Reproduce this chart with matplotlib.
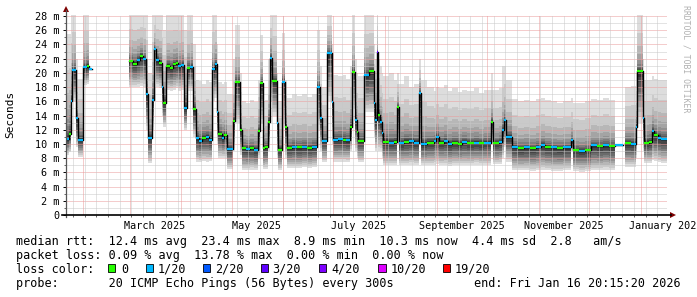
import numpy as np
import matplotlib
matplotlib.use('Agg')
import matplotlib.pyplot as plt
from matplotlib.patches import Polygon, Rectangle
from matplotlib.lines import Line2D

# smokeping year view, 360 days ending 2026-01-16 20:15
start = np.datetime64('2025-01-21T20:15')
span_days = 360.0

# segments: start day, median (ms), min, max, lost pings (of 20)
seg_day = [0.0, 1.8, 2.7, 3.6, 6.0, 7.2, 9.9, 12.6, 13.8, 15.6,
           37.8, 40.2, 42.6, 44.4, 46.2, 48.0, 48.9, 51.6, 52.8, 54.0,
           55.8, 57.3, 58.2, 60.0, 62.4, 64.2, 66.0, 67.2, 69.0, 70.8,
           72.6, 74.4, 76.2, 77.7, 79.8, 81.6, 84.0, 85.8, 87.6, 89.1,
           90.3, 91.2, 93.6, 94.8, 96.6, 100.2, 101.1, 104.4, 105.6, 108.0,
           110.4, 112.8, 115.2, 116.1, 118.2, 119.4, 121.2, 122.4, 123.3, 126.6,
           127.2, 129.6, 131.4, 132.3, 135.6, 138.6, 141.6, 144.6, 147.6, 150.6,
           152.4, 153.3, 156.6, 159.6, 160.2, 163.2, 166.2, 168.0, 170.4, 171.3,
           173.4, 174.3, 175.2, 178.8, 181.2, 184.2, 185.1, 186.0, 186.9, 188.1,
           189.0, 189.9, 193.2, 196.2, 198.3, 199.2, 202.2, 205.2, 208.2, 211.5,
           212.7, 216.0, 220.2, 221.7, 223.2, 226.2, 228.6, 231.0, 234.6, 237.0,
           240.0, 244.2, 247.2, 250.2, 254.4, 255.6, 259.2, 261.3, 262.2, 263.4,
           267.0, 270.6, 274.2, 277.8, 281.4, 284.4, 286.8, 290.4, 294.0, 297.6,
           302.4, 303.6, 307.2, 310.8, 314.4, 318.0, 321.6, 325.2, 328.8, 333.9,
           335.1, 338.4, 341.4, 342.3, 345.6, 346.2, 349.2, 351.3, 352.2, 354.6,
           356.4]
median = [10.7, 11.4, 16.0, 20.4, 13.6, 10.6, 20.8, 21.0, 20.6, np.nan,
          21.6, 21.3, 21.8, 22.4, 22.0, 17.0, 10.9, 16.2, 23.4, 21.8,
          21.4, 18.0, 15.8, 21.0, 20.7, 21.2, 21.4, 20.9, 21.1, 15.1,
          20.7, 20.8, 14.9, 10.8, 10.4, 10.9, 11.0, 10.6, 20.6, 21.2,
          14.5, 11.4, 10.9, 11.2, 9.3, 13.2, 18.7, 12.0, 9.4, 9.3,
          9.4, 9.2, 11.8, 18.6, 9.4, 9.6, 13.1, 22.1, 18.8, 12.9,
          9.2, 18.7, 12.4, 9.4, 9.6, 9.5, 9.6, 9.4, 9.6, 18.0,
          13.6, 10.4, 22.8, 15.9, 10.6, 10.7, 10.6, 10.5, 12.4, 20.1,
          13.4, 11.7, 10.4, 19.7, 20.2, 15.8, 13.4, 22.9, 14.1, 13.1,
          11.5, 10.3, 10.2, 10.3, 15.2, 10.1, 10.3, 10.4, 10.2, 17.2,
          10.0, 10.2, 10.4, 11.0, 10.2, 10.4, 10.0, 10.2, 10.0, 10.3,
          10.1, 10.2, 10.1, 10.2, 13.1, 10.1, 10.3, 11.9, 13.3, 11.0,
          9.6, 9.4, 9.5, 9.4, 9.6, 9.9, 9.6, 9.5, 9.4, 9.5,
          10.5, 9.1, 9.0, 9.1, 9.8, 9.7, 9.8, 9.7, 9.9, np.nan,
          10.1, 10.0, 12.4, 20.2, 13.6, 10.2, 10.3, 11.8, 11.2, 10.9,
          10.7]
ping_min = [8.5, 8.8, 12.0, 16.0, 9.5, 8.2, 18.3, 18.5, 18.5, np.nan,
            18.0, 18.0, 18.0, 18.2, 18.0, 12.0, 7.3, 12.0, 19.0, 18.0,
            17.8, 14.0, 12.4, 17.6, 17.5, 17.6, 17.8, 17.5, 17.6, 12.0,
            17.5, 17.5, 11.0, 7.5, 7.5, 7.6, 7.5, 7.6, 16.0, 16.5,
            10.0, 8.0, 8.0, 8.0, 6.5, 9.0, 13.0, 8.5, 6.3, 6.3,
            6.4, 6.3, 8.0, 13.0, 6.5, 6.5, 9.0, 16.0, 14.0, 8.0,
            6.3, 13.0, 8.0, 6.6, 6.6, 6.6, 6.7, 6.6, 6.7, 12.0,
            9.0, 7.5, 16.0, 10.0, 7.5, 7.5, 7.5, 7.5, 9.0, 15.0,
            9.0, 8.0, 7.5, 14.5, 14.5, 11.0, 9.0, 16.0, 9.0, 9.0,
            8.0, 7.0, 7.0, 7.0, 10.0, 7.0, 7.0, 7.1, 7.0, 10.0,
            7.0, 7.0, 7.1, 7.2, 7.0, 7.0, 6.9, 7.0, 7.0, 7.0,
            7.0, 7.1, 7.0, 7.0, 10.3, 7.2, 7.2, 8.0, 9.5, 7.5,
            6.3, 6.3, 6.3, 6.2, 6.3, 6.4, 6.3, 6.2, 6.2, 6.3,
            9.0, 6.2, 6.1, 6.2, 6.3, 6.3, 6.4, 6.3, 6.4, np.nan,
            6.8, 6.8, 8.0, 13.0, 9.0, 7.3, 7.3, 7.8, 7.6, 7.4,
            7.3]
ping_max = [25.5, 25.5, 28.5, 28.5, 22.0, 19.2, 28.5, 28.5, 28.5, np.nan,
            28.5, 28.5, 28.5, 28.5, 28.5, 28.5, 20.0, 28.5, 28.5, 28.5,
            28.5, 28.5, 26.0, 28.5, 28.5, 28.5, 28.5, 28.5, 28.5, 26.0,
            28.5, 28.5, 24.0, 19.0, 18.8, 18.5, 19.0, 18.7, 28.5, 28.5,
            24.0, 18.7, 18.5, 18.7, 17.0, 22.0, 26.7, 20.0, 16.0, 15.8,
            16.2, 15.9, 19.0, 25.3, 16.0, 16.2, 22.0, 28.5, 28.5, 20.0,
            16.0, 25.6, 19.0, 16.5, 17.0, 16.8, 17.0, 16.6, 17.0, 26.0,
            21.0, 18.0, 28.5, 24.0, 19.7, 19.5, 19.7, 19.2, 21.0, 28.5,
            22.0, 20.0, 19.5, 28.5, 28.5, 24.0, 22.0, 28.5, 22.0, 21.0,
            20.0, 19.5, 20.0, 19.0, 20.0, 18.5, 19.5, 18.0, 18.5, 22.0,
            19.0, 18.0, 17.5, 18.0, 17.8, 18.3, 17.5, 17.8, 17.3, 17.6,
            17.4, 17.8, 17.2, 17.6, 20.0, 17.6, 17.8, 21.0, 21.0, 19.0,
            16.3, 16.0, 16.2, 16.0, 16.3, 16.5, 16.2, 16.0, 15.8, 16.0,
            16.5, 15.8, 15.7, 16.0, 16.3, 16.2, 16.5, 16.2, 16.4, np.nan,
            18.0, 18.2, 20.0, 28.5, 22.0, 19.0, 19.0, 19.5, 19.2, 19.0,
            19.0]
lost = [1, 0, 1, 1, 1, 1, 1, 0, 1, 0,
        0, 0, 1, 0, 1, 1, 1, 1, 1, 1,
        0, 1, 0, 0, 0, 0, 0, 1, 1, 1,
        0, 1, 0, 1, 1, 0, 1, 1, 1, 1,
        1, 0, 1, 0, 1, 0, 0, 0, 0, 1,
        0, 1, 0, 0, 0, 0, 0, 1, 0, 1,
        0, 1, 0, 0, 1, 0, 1, 0, 1, 1,
        1, 1, 1, 1, 1, 1, 0, 1, 0, 0,
        1, 0, 0, 1, 0, 1, 1, 3, 0, 1,
        1, 0, 1, 0, 0, 1, 0, 1, 1, 1,
        1, 0, 1, 1, 0, 1, 1, 0, 0, 1,
        0, 1, 0, 1, 0, 0, 1, 1, 1, 1,
        1, 0, 1, 0, 1, 1, 0, 1, 0, 1,
        1, 0, 1, 0, 1, 0, 1, 0, 1, 0,
        0, 1, 1, 0, 1, 0, 0, 1, 0, 1,
        1]

loss_levels = [0, 1, 2, 3, 4, 10, 19]
loss_colors = ['#26ff00', '#00b8ff', '#0059ff', '#5e00ff', '#7e00ff', '#dd00ff', '#ff0000']
loss_names = ['0', '1/20', '2/20', '3/20', '4/20', '10/20', '19/20']

W, H = 697, 297
def fx(x):
    return x / W
def fy(y):
    return 1 - y / H

mono = 'DejaVu Sans Mono'
fig = plt.figure(figsize=(W / 100, H / 100), dpi=100)
fig.patch.set_facecolor('white')
ax = fig.add_axes([fx(66), fy(215), (667 - 66) / W, 200 / H])
ax.set_xlim(0, span_days)
ax.set_ylim(0, 200 / 7.107)
for s in ax.spines.values():
    s.set_visible(False)

def day(d):
    return (np.datetime64(d) - start) / np.timedelta64(1, 'D')

x = np.append(np.array(seg_day), span_days)
med = np.array(median)
lo = np.array(ping_min)
hi = np.array(ping_max)

# smoke: 10 nested bands, light outside, dark near the median
for k in range(10):
    shade = int(190 / 10 * (9 - k)) + 50
    g_lo = (10 - k) / 10
    g_hi = 0.66 ** k
    y1 = med - (med - lo) * g_lo
    y2 = med + (hi - med) * g_hi
    ax.fill_between(x, np.append(y1, y1[-1]), np.append(y2, y2[-1]), step='post',
                    color='#%02x%02x%02x' % (shade, shade, shade), lw=0,
                    antialiased=False, zorder=1)

# grid (dotted, drawn over the smoke)
minor_c, major_c = '#c8c8c8', '#eb9a9a'
for v in range(1, 29):
    ax.axhline(v, color=minor_c if v % 2 else major_c, lw=0.72, dashes=(1, 1), zorder=2)
for d in np.arange(day('2025-01-26'), span_days, 7):
    ax.axvline(d, color=minor_c, lw=0.72, dashes=(1, 1), zorder=2)
months = np.arange(np.datetime64('2025-02'), np.datetime64('2026-02'), dtype='datetime64[M]')
for m in months:
    ax.axvline(day(m), color=major_c, lw=0.72, dashes=(1, 1), zorder=2.1)

# median line, coloured by loss
ax.step(x, np.append(med, med[-1]), where='post', color='black', lw=1.0, zorder=3)
ok = ~np.isnan(med)
cols = [loss_colors[loss_levels.index(l)] for l in lost]
ax.hlines(med[ok], x[:-1][ok], x[1:][ok], colors=np.array(cols)[ok], lw=1.6, zorder=4)

# ticks
ax.set_yticks(range(0, 29, 2), ['0'] + ['%d m' % v for v in range(2, 29, 2)])
ax.set_yticks(range(0, 29), minor=True)
lab_months = ['2025-03', '2025-05', '2025-07', '2025-09', '2025-11', '2026-01']
ax.set_xticks([day(m + '-01') + 15 for m in lab_months],
              [np.datetime64(m, 'M').item().strftime('%B %Y') for m in lab_months])
ax.set_xticks(np.arange(day('2025-01-26'), span_days, 7), minor=True)
ax.tick_params(axis='x', which='major', length=0, pad=4.5)
ax.tick_params(axis='y', which='major', length=2, width=0.7, pad=2.5)
ax.tick_params(which='minor', length=1.5, width=0.7, color='#666666')
for t in ax.get_xticklabels() + ax.get_yticklabels():
    t.set_fontfamily(mono)
    t.set_fontsize(7.3)

# axes with arrows
fig.add_artist(Line2D([fx(66), fx(66)], [fy(217), fy(10)], color='#555555', lw=0.9))
fig.add_artist(Line2D([fx(62), fx(671)], [fy(215), fy(215)], color='black', lw=1.2))
fig.add_artist(Polygon([(fx(63), fy(12)), (fx(69), fy(12)), (fx(66), fy(6))],
                       closed=True, color='#7f0000', lw=0))
fig.add_artist(Polygon([(fx(670), fy(212)), (fx(670), fy(218)), (fx(676), fy(215))],
                       closed=True, color='#7f0000', lw=0))

fig.text(fx(10), fy(114), 'Seconds', rotation=90, ha='center', va='center',
         family=mono, fontsize=8)
fig.text(fx(686), fy(5), 'RRDTOOL / TOBI OETIKER', rotation=-90, ha='center', va='top',
         family=mono, fontsize=5.9, color='#b0b0b0')

# legend block
fs = 8.5
fig.text(fx(16), fy(241), 'median rtt:  12.4 ms avg  23.4 ms max  8.9 ms min  10.3 ms now  4.4 ms sd  2.8   am/s',
         family=mono, fontsize=fs, va='center')
fig.text(fx(16), fy(255.5), 'packet loss: 0.09 % avg  13.78 % max  0.00 % min  0.00 % now',
         family=mono, fontsize=fs, va='center')
fig.text(fx(16), fy(269.5), 'loss color:', family=mono, fontsize=fs, va='center')
box_x = [108, 146, 203, 261, 318.5, 378.3, 442.7]
lab_x = [121, 157.6, 215.3, 272.6, 331, 391, 454.3]
for bx, lx, c, n in zip(box_x, lab_x, loss_colors, loss_names):
    fig.add_artist(Rectangle((fx(bx), fy(271.7)), 7.3 / W, 7.3 / H, facecolor=c,
                             edgecolor='black', lw=0.6))
    fig.text(fx(lx), fy(269.5), n, family=mono, fontsize=fs, va='center')
fig.text(fx(16), fy(283.5), 'probe:       20 ICMP Echo Pings (56 Bytes) every 300s',
         family=mono, fontsize=fs, va='center')
fig.text(fx(681), fy(283.5), 'end: Fri Jan 16 20:15:20 2026', family=mono, fontsize=fs,
         va='center', ha='right')

fig.savefig('out.png', dpi=100)
